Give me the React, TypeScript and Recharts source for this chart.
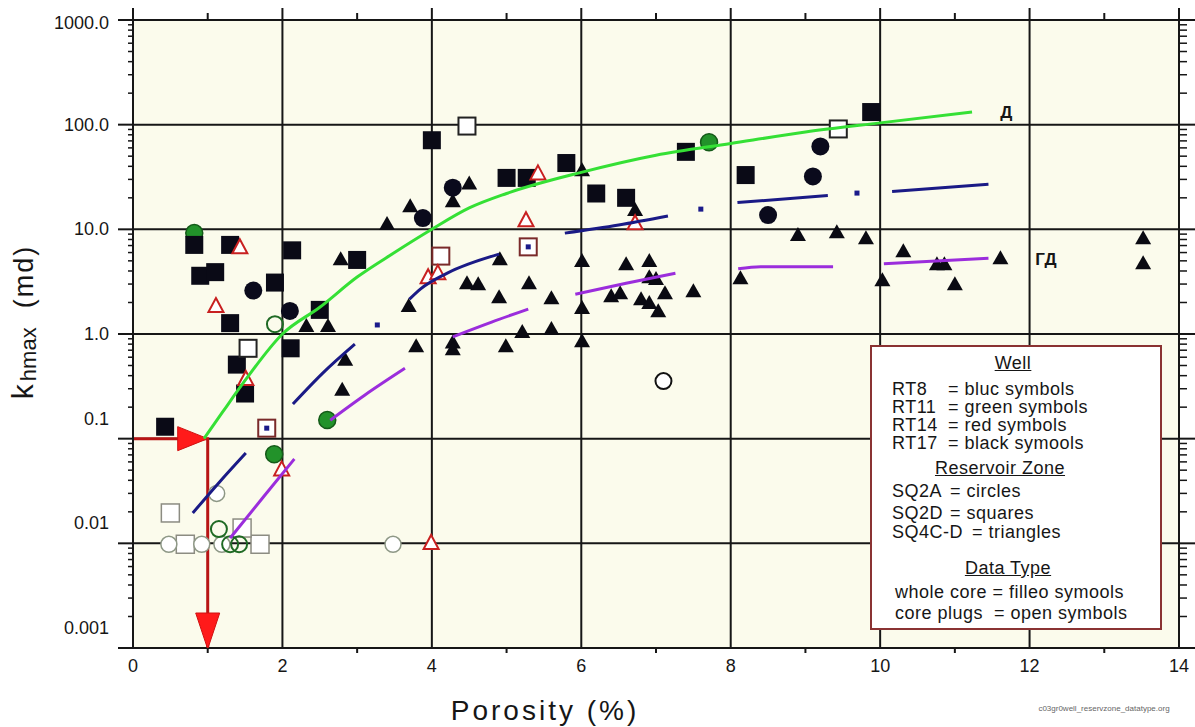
import React from "react";
import { ComposedChart, CartesianGrid, XAxis, YAxis, Scatter, Line, Legend } from "recharts";

const FONT = '"Liberation Sans", Arial, Helvetica, sans-serif';
const INK = "#161616";

// axes
const xTicks = [0, 1, 2, 3, 4, 5, 6, 7, 8, 9, 10, 11, 12, 13, 14];
const xGridValues = [2, 4, 6, 8, 10, 12];
const yDecades = [0.001, 0.01, 0.1, 1, 10, 100, 1000];
const yDecadeLabels = ["0.001", "0.01", "0.1", "1.0", "10.0", "100.0", "1000.0"];
const yGridValues = [0.01, 0.1, 1, 10, 100];
const yMinorTicks = [
  0.002, 0.003, 0.004, 0.005, 0.006, 0.007, 0.008, 0.009,
  0.02, 0.03, 0.04, 0.05, 0.06, 0.07, 0.08, 0.09,
  0.2, 0.3, 0.4, 0.5, 0.6, 0.7, 0.8, 0.9,
  2, 3, 4, 5, 6, 7, 8, 9,
  20, 30, 40, 50, 60, 70, 80, 90,
  200, 300, 400, 500, 600, 700, 800, 900,
];

type P = [number, number]; // [porosity %, k hmax md]

// RT17 - black, whole core
const rt17Squares: P[] = [
  [0.43, 0.13], [0.82, 7.1], [0.9, 3.6], [1.1, 3.9], [1.3, 7.1], [1.3, 1.27],
  [1.39, 0.51], [1.5, 0.27], [1.9, 3.1], [2.13, 6.3], [2.11, 0.73], [2.5, 1.7],
  [3.0, 5.1], [4.0, 71], [5.0, 31], [5.27, 31], [5.8, 43], [6.2, 22], [6.6, 20],
  [7.4, 55], [8.2, 33], [9.88, 132],
];
const rt17Circles: P[] = [
  [1.61, 2.6], [2.1, 1.66], [3.88, 12.8], [4.28, 25], [8.5, 13.7], [9.1, 32], [9.2, 62],
];
const rt17Triangles: P[] = [
  [3.4, 11.5], [3.71, 17], [4.28, 19], [4.5, 28], [6.01, 37.6], [6.72, 15.6],
  [2.78, 5.3], [2.32, 1.22], [2.61, 1.22], [2.84, 0.58], [2.8, 0.3], [3.69, 1.89],
  [3.79, 0.78], [4.28, 0.85], [4.28, 0.73], [4.91, 5.3], [4.47, 3.13], [4.62, 3.06],
  [5.3, 3.13], [4.9, 2.3], [5.6, 2.25], [6.01, 5.08], [6.01, 1.81], [6.01, 0.87],
  [5.21, 1.07], [5.6, 1.14], [4.99, 0.78], [6.6, 4.75], [6.91, 5.08], [6.91, 3.57],
  [7.0, 3.42], [6.4, 2.35], [6.52, 2.51], [6.8, 2.2], [6.91, 2.02], [7.03, 1.69],
  [7.12, 2.51], [7.5, 2.62], [8.13, 3.49], [8.9, 9.0], [9.42, 9.6], [9.81, 8.4],
  [10.03, 3.34], [10.31, 6.3], [10.76, 4.75], [10.86, 4.75], [11.0, 3.06],
  [11.61, 5.4], [13.52, 8.4], [13.52, 4.86],
];
// RT17 core plugs
const rt17PlugSquares: P[] = [[4.47, 97], [9.44, 91], [1.54, 0.73]];
const rt17PlugCircles: P[] = [[7.1, 0.355]];

// RT14 - red
const rt14PlugTriangles: P[] = [
  [1.43, 6.9], [1.11, 1.89], [1.51, 0.38], [1.99, 0.052], [3.99, 0.0103],
  [3.95, 3.57], [4.08, 3.9], [5.42, 35], [5.26, 12.5], [6.72, 11.7],
];
const rt14PlugSquares: P[] = [[4.12, 5.55], [1.79, 0.126], [5.29, 6.8]];

// RT11 - green
const rt11Circles: P[] = [[0.82, 9.2], [2.6, 0.151], [1.89, 0.071], [7.71, 68]];
const rt11PlugCircles: P[] = [[1.9, 1.24], [1.15, 0.0137], [1.3, 0.0098], [1.42, 0.0098]];

// RT8 - blue
const rt8Squares: P[] = [[3.27, 1.22], [7.6, 15.6], [9.69, 22.2], [1.79, 0.126], [5.29, 6.8]];

// plugs at detection limit
const greyPlugCircles: P[] = [[0.48, 0.0098], [0.92, 0.0098], [1.19, 0.0098], [1.12, 0.03], [3.48, 0.0098]];
const greyPlugSquares: P[] = [[0.5, 0.0195], [0.7, 0.0098], [1.7, 0.0098], [1.46, 0.014]];

// trends
const rt11Trend: P[] = [
  [0.95, 0.1], [1.2, 0.18], [1.5, 0.36], [2, 1], [2.5, 1.8], [3, 3.5], [3.5, 6.0],
  [4, 10], [4.5, 16], [5, 22], [6, 35], [7, 51], [8, 66], [9, 85], [10, 104], [11.23, 132],
];
const rt8Trends: P[][] = [
  [[0.8, 0.0195], [1.15, 0.038], [1.51, 0.073]],
  [[2.14, 0.214], [2.55, 0.43], [2.97, 0.8]],
  [[3.7, 2.15], [3.85, 2.7], [4.2, 3.8], [4.9, 5.8]],
  [[5.78, 9.2], [6.5, 11.0], [7.16, 13.4]],
  [[8.09, 18], [9.3, 21]],
  [[10.16, 23], [11.45, 27]],
];
const purpleTrends: P[][] = [
  [[1.3, 0.0112], [1.75, 0.028], [2.16, 0.064]],
  [[2.64, 0.15], [3.1, 0.26], [3.64, 0.47]],
  [[4.28, 0.94], [4.8, 1.3], [5.29, 1.73]],
  [[5.92, 2.4], [6.6, 3.05], [7.26, 3.8]],
  [[8.1, 4.2], [8.4, 4.4], [9.37, 4.4]],
  [[10.05, 4.7], [11.45, 5.3]],
];

// 1% porosity cut-off at 0.1 md
const cutoffPath: P[] = [[0, 0.1], [1.0, 0.1], [1.0, 0.001]];
const cutoffHeads = [
  { x: 1.0, y: 0.1, dir: "right" },
  { x: 1.0, y: 0.001, dir: "down" },
];

const zoneLabels = [
  { x: 11.69, y: 132, text: "Д" },
  { x: 12.22, y: 5.2, text: "ГД" },
];

const pts = (a: P[]) => a.map(([x, y]) => ({ x, y }));

const sq = (s: number, fill: string, stroke: string, sw = 0) => (p: any) => (
  <rect x={p.cx - s / 2} y={p.cy - s / 2} width={s} height={s} fill={fill} stroke={stroke} strokeWidth={sw} />
);
const circ = (d: number, fill: string, stroke: string, sw = 0) => (p: any) => (
  <circle cx={p.cx} cy={p.cy} r={d / 2} fill={fill} stroke={stroke} strokeWidth={sw} />
);
const tri = (w: number, h: number, fill: string, stroke: string, sw = 0) => (p: any) => (
  <polygon
    points={`${p.cx},${p.cy - h / 2} ${p.cx + w / 2},${p.cy + h / 2} ${p.cx - w / 2},${p.cy + h / 2}`}
    fill={fill}
    stroke={stroke}
    strokeWidth={sw}
    strokeLinejoin="miter"
  />
);

const arrowHead = (p: any) => {
  const { cx, cy } = p;
  const dir = p.payload?.dir ?? p.dir;
  const pts =
    dir === "right"
      ? `${cx - 30},${cy - 12} ${cx},${cy} ${cx - 30},${cy + 12}`
      : `${cx - 12},${cy - 35} ${cx + 12},${cy - 35} ${cx},${cy + 1}`;
  return <polygon points={pts} fill="#ff1a1a" stroke="#d01010" strokeWidth={1} />;
};

const zoneText = (p: any) => (
  <text x={p.cx} y={p.cy + 6} textAnchor="middle" fontSize={17} fontWeight="bold" fontFamily={FONT} fill={INK}>
    {p.payload?.text ?? p.text}
  </text>
);

function BottomTick(props: any) {
  const { x, y, payload } = props;
  const v = payload.value;
  if (v % 2 !== 0) return <line x1={x} x2={x} y1={y} y2={y + 5} stroke={INK} strokeWidth={2} />;
  return (
    <text x={x} y={y + 24} textAnchor="middle" fontSize={18} fontFamily={FONT} fill={INK}>
      {v}
    </text>
  );
}

function TopTick(props: any) {
  const { x, y, payload } = props;
  const len = payload.value % 2 === 0 ? 12 : 7;
  return <line x1={x} x2={x} y1={y} y2={y - len} stroke={INK} strokeWidth={2} />;
}

function LeftTick(props: any) {
  const { x, y, payload } = props;
  const i = yDecades.indexOf(payload.value);
  if (i < 0) return <line x1={x - 5} x2={x} y1={y} y2={y} stroke={INK} strokeWidth={1.5} />;
  const v = payload.value;
  const dy = v >= 1000 ? 9 : v >= 1 ? 6 : -14;
  return (
    <g>
      <line x1={x - 15} x2={x} y1={y} y2={y} stroke={INK} strokeWidth={2} />
      <text x={x - 24} y={y + dy} textAnchor="end" fontSize={18} fontFamily={FONT} fill={INK}>
        {yDecadeLabels[i]}
      </text>
    </g>
  );
}

function RightTick(props: any) {
  const { x, y, payload } = props;
  const major = yDecades.includes(payload.value);
  return <line x1={x} x2={x + (major ? 16 : 8)} y1={y} y2={y} stroke={INK} strokeWidth={major ? 2 : 1.5} />;
}

const XTitle = () => (
  <g>
    <text x={545} y={720} textAnchor="middle" fontSize={28} letterSpacing={3} fontFamily={FONT} fill={INK}>
      Porosity (%)
    </text>
    <text x={1104} y={711} textAnchor="middle" fontSize={8} fontFamily={FONT} fill="#666">
      c03gr0well_reservzone_datatype.org
    </text>
  </g>
);

const YTitle = () => (
  <text transform="rotate(-90 33 322)" x={33} y={322} textAnchor="middle" fontFamily={FONT} fill={INK}>
    <tspan fontSize={30}>k</tspan>
    <tspan fontSize={22} dx={3} dy={3}>hmax</tspan>
    <tspan fontSize={27} dy={-3} letterSpacing={2}>{"\u00a0\u00a0(md)"}</tspan>
  </text>
);

const legendRows = [
  { a: "Well", cx: 141, top: 6, head: true },
  { a: "RT8", b: "= bluc symbols", left: 20, bl: 76, top: 32 },
  { a: "RT11", b: "= green symbols", left: 20, bl: 76, top: 50 },
  { a: "RT14", b: "= red symbols", left: 20, bl: 76, top: 68 },
  { a: "RT17", b: "= black symools", left: 20, bl: 76, top: 86 },
  { a: "Reservoir Zone", cx: 128, top: 111, head: true },
  { a: "SQ2A", b: "= circles", left: 20, bl: 78, top: 134 },
  { a: "SQ2D", b: "= squares", left: 20, bl: 78, top: 156 },
  { a: "SQ4C-D", b: "= triangles", left: 20, bl: 100, top: 175 },
  { a: "Data Type", cx: 136, top: 211, head: true },
  { a: "whole core = filleo symools", left: 23, top: 235 },
  { a: "core plugs  = open symbols", left: 23, top: 256 },
];

function LegendBox() {
  return (
    <div
      style={{
        position: "relative",
        width: 292,
        height: 285,
        boxSizing: "border-box",
        background: "#ffffff",
        border: "2px solid #8a3232",
        fontFamily: FONT,
        fontSize: 18,
        letterSpacing: 0.5,
        lineHeight: "20px",
        color: "#161616",
      }}
    >
      {legendRows.map((r, i) =>
        r.head ? (
          <span
            key={i}
            style={{
              position: "absolute",
              left: r.cx,
              top: r.top,
              transform: "translateX(-50%)",
              textDecoration: "underline",
              whiteSpace: "pre",
            }}
          >
            {r.a}
          </span>
        ) : (
          <React.Fragment key={i}>
            <span style={{ position: "absolute", left: r.left, top: r.top, whiteSpace: "pre" }}>{r.a}</span>
            {r.b && <span style={{ position: "absolute", left: r.bl, top: r.top, whiteSpace: "pre" }}>{r.b}</span>}
          </React.Fragment>
        )
      )}
    </div>
  );
}

export default function App() {
  return (
    <div style={{ position: "absolute", left: 0, top: 0, width: 1195, height: 727, background: "#ffffff" }}>
      <ComposedChart width={1195} height={727} margin={{ top: 0, right: 0, bottom: 0, left: 0 }}>
        <CartesianGrid
          fill="#fbfbec"
          fillOpacity={1}
          stroke={INK}
          strokeWidth={2}
          horizontalValues={yGridValues}
          verticalValues={xGridValues}
        />
        <XAxis
          dataKey="x"
          type="number"
          domain={[0, 14]}
          allowDataOverflow
          ticks={xTicks}
          interval={0}
          height={79}
          tickSize={0}
          tickMargin={0}
          tickLine={false}
          tick={BottomTick}
          axisLine={{ stroke: INK, strokeWidth: 2 }}
          label={XTitle}
        />
        <XAxis
          xAxisId="top"
          orientation="top"
          dataKey="x"
          type="number"
          domain={[0, 14]}
          allowDataOverflow
          ticks={xTicks}
          interval={0}
          height={20}
          tickSize={0}
          tickMargin={0}
          tickLine={false}
          tick={TopTick}
          axisLine={{ stroke: INK, strokeWidth: 2 }}
        />
        <YAxis
          dataKey="y"
          type="number"
          scale="log"
          domain={[0.001, 1000]}
          allowDataOverflow
          ticks={[...yDecades, ...yMinorTicks]}
          interval={0}
          width={133}
          tickSize={0}
          tickMargin={0}
          tickLine={false}
          tick={LeftTick}
          axisLine={{ stroke: INK, strokeWidth: 2 }}
          label={YTitle}
        />
        <YAxis
          yAxisId="right"
          orientation="right"
          type="number"
          scale="log"
          domain={[0.001, 1000]}
          allowDataOverflow
          ticks={[...yDecades, ...yMinorTicks]}
          interval={0}
          width={16}
          tickSize={0}
          tickMargin={0}
          tickLine={false}
          tick={RightTick}
          axisLine={{ stroke: INK, strokeWidth: 2 }}
        />

        <Line data={pts(cutoffPath)} dataKey="y" type="linear" stroke="#b81414" strokeWidth={3} dot={false} isAnimationActive={false} />

        <Scatter data={pts(greyPlugSquares)} shape={sq(18, "#ffffff", "#8c8c82", 1.5)} isAnimationActive={false} />
        <Scatter data={pts(greyPlugCircles)} shape={circ(16, "#ffffff", "#8e9886", 1.5)} isAnimationActive={false} />
        <Scatter data={pts(rt11Circles)} shape={circ(17, "#22922a", "#145a18", 1.5)} isAnimationActive={false} />
        <Scatter data={pts(rt17Squares)} shape={sq(18, "#0a0a16", "#0a0a16")} isAnimationActive={false} />
        <Scatter data={pts(rt17Triangles)} shape={tri(16, 14, "#0a0a12", "#0a0a12")} isAnimationActive={false} />
        <Scatter data={pts(rt17Circles)} shape={circ(18, "#0a0a1c", "#0a0a1c")} isAnimationActive={false} />
        <Scatter data={pts(rt17PlugSquares)} shape={sq(17, "#ffffff", "#222222", 2)} isAnimationActive={false} />
        <Scatter data={pts(rt17PlugCircles)} shape={circ(16, "#ffffff", "#111111", 2)} isAnimationActive={false} />
        <Scatter data={pts(rt11PlugCircles)} shape={circ(16, "none", "#1f6a24", 2)} isAnimationActive={false} />
        <Scatter data={pts(rt14PlugSquares)} shape={sq(17, "#ffffff", "#7a2a2a", 2)} isAnimationActive={false} />
        <Scatter data={pts(rt14PlugTriangles)} shape={tri(15, 14, "#ffffff", "#c82020", 2)} isAnimationActive={false} />
        <Scatter data={pts(rt8Squares)} shape={sq(5, "#1a1a8a", "#1a1a8a")} isAnimationActive={false} />
        <Scatter data={cutoffHeads} shape={arrowHead} isAnimationActive={false} />
        <Scatter data={zoneLabels} shape={zoneText} isAnimationActive={false} />

        {rt8Trends.map((seg, i) => (
          <Line key={`b${i}`} data={pts(seg)} dataKey="y" type="monotone" stroke="#1a1a86" strokeWidth={3} dot={false} isAnimationActive={false} zIndex={650} />
        ))}
        {purpleTrends.map((seg, i) => (
          <Line key={`p${i}`} data={pts(seg)} dataKey="y" type="monotone" stroke="#9b2ddc" strokeWidth={3} dot={false} isAnimationActive={false} zIndex={650} />
        ))}
        <Line data={pts(rt11Trend)} dataKey="y" type="monotone" stroke="#35e035" strokeWidth={3} dot={false} isAnimationActive={false} zIndex={650} />

        <Legend
          layout="horizontal"
          verticalAlign="middle"
          align="center"
          wrapperStyle={{ left: 870, top: 345, width: 292, height: 285 }}
          content={() => <LegendBox />}
        />
      </ComposedChart>
    </div>
  );
}
